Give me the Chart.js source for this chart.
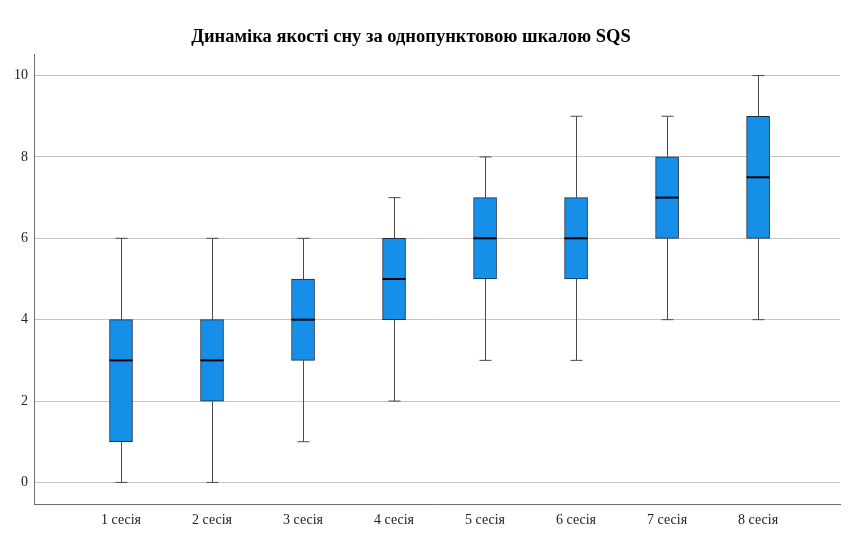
<!DOCTYPE html>
<html lang="uk">
<head>
    <meta charset="UTF-8">
    <title>SQS boxplot</title>
    <script src="https://cdn.jsdelivr.net/npm/chart.js@4.4.2/dist/chart.umd.min.js"></script>
    <style>
        body {
          margin: 0;
          background: #fff;}
        .wrap {
          position: relative;
          width: 850px;
          height: 540px;}
        .title {
          position: absolute;
          left: 0;
          width: 822px;
          top: 26px;
          text-align: center;
          font-family: 'Liberation Serif', serif;
          font-weight: bold;
          font-size: 18.5px;
          color: #000;}
    </style>
</head>
<body>
<div class="wrap">
    <div class="title">Динаміка якості сну за однопунктовою шкалою SQS</div>
    <canvas id="box" width="850" height="540"></canvas>
</div>

<script>
    // sessions and five-number summaries
    const sessions = ['1 сесія', '2 сесія', '3 сесія', '4 сесія', '5 сесія', '6 сесія', '7 сесія', '8 сесія'];
    const mins    = [0, 0, 1, 2, 3, 3, 4, 4];
    const q1s     = [1, 2, 3, 4, 5, 5, 6, 6];
    const medians = [3, 3, 4, 5, 6, 6, 7, 7.5];
    const q3s     = [4, 4, 5, 6, 7, 7, 8, 9];
    const maxs    = [6, 6, 6, 7, 8, 9, 9, 10];
    const yTicks  = [0, 2, 4, 6, 8, 10];

    const BOX_W = 23;
    const CAP_W = 12;
    const FONT = "'Liberation Serif', serif";

    // whiskers under the boxes, medians on top
    const boxParts = {
        id: 'boxParts',
        beforeDatasetsDraw(chart) {
            const ctx = chart.ctx, xs = chart.scales.x, ys = chart.scales.y;
            ctx.save();
            ctx.strokeStyle = '#4a4a4a';
            ctx.lineWidth = 1;
            sessions.forEach((s, i) => {
                const x = Math.round(xs.getPixelForValue(i + 1)) + 0.5;
                const yLo = ys.getPixelForValue(mins[i]);
                const yHi = ys.getPixelForValue(maxs[i]);
                ctx.beginPath();
                ctx.moveTo(x, yLo); ctx.lineTo(x, ys.getPixelForValue(q1s[i]));
                ctx.moveTo(x, ys.getPixelForValue(q3s[i])); ctx.lineTo(x, yHi);
                ctx.moveTo(x - CAP_W / 2, yLo); ctx.lineTo(x + CAP_W / 2, yLo);
                ctx.moveTo(x - CAP_W / 2, yHi); ctx.lineTo(x + CAP_W / 2, yHi);
                ctx.stroke();
            });
            ctx.restore();
        },
        afterDatasetsDraw(chart) {
            const ctx = chart.ctx, xs = chart.scales.x, ys = chart.scales.y;
            ctx.save();
            ctx.strokeStyle = '#000';
            ctx.lineWidth = 2;
            sessions.forEach((s, i) => {
                const x = xs.getPixelForValue(i + 1);
                const y = ys.getPixelForValue(medians[i]);
                ctx.beginPath();
                ctx.moveTo(x - BOX_W / 2, y); ctx.lineTo(x + BOX_W / 2, y);
                ctx.stroke();
            });
            ctx.restore();
        }
    };

    const ctx = document.getElementById('box').getContext('2d');
    new Chart(ctx, {
        type: 'bar',
        data: {
            datasets: [{
                data: sessions.map((s, i) => ({x: i + 1, y: [q1s[i], q3s[i]]})),
                backgroundColor: '#168fe8',
                borderColor: '#1b2b44',
                borderWidth: 1,
                borderSkipped: false,
                barThickness: BOX_W
            }]
        },
        options: {
            responsive: false,
            animation: false,
            layout: {padding: {top: 54, right: 10, left: 0, bottom: 0}},
            plugins: {
                legend: {display: false},
                tooltip: {enabled: false}},
            scales: {
                x: {
                    type: 'linear',
                    offset: false,
                    min: 0.044,
                    max: 8.9,
                    afterBuildTicks: (s) => { s.ticks = sessions.map((c, i) => ({value: i + 1})); },
                    afterFit: (s) => { s.height = 36; },
                    grid: {display: false, drawTicks: false},
                    border: {color: '#6e6e6e'},
                    ticks: {
                        padding: 8,
                        color: '#222',
                        font: {family: FONT, size: 14},
                        callback: (v) => sessions[v - 1] || ''}},
                y: {
                    min: -0.53,
                    max: 10.53,
                    afterBuildTicks: (s) => { s.ticks = yTicks.map(v => ({value: v})); },
                    afterFit: (s) => { s.width = 34; },
                    grid: {color: '#c4c4c4', drawTicks: false},
                    border: {color: '#6e6e6e'},
                    ticks: {
                        padding: 6,
                        color: '#222',
                        font: {family: FONT, size: 14}}}}
        },
        plugins: [boxParts]
    });
</script>
</body>
</html>
